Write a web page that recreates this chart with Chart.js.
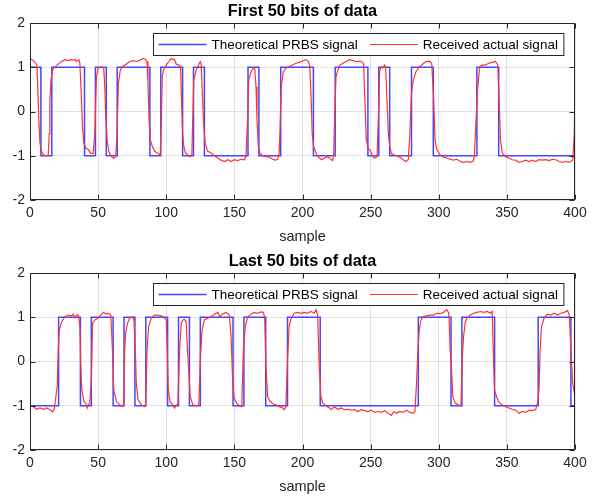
<!DOCTYPE html>
<html>
<head>
<meta charset="utf-8">
<title>PRBS signal</title>
<script src="https://cdn.jsdelivr.net/npm/chart.js@4.4.1/dist/chart.umd.min.js"></script>
<style>
  body { margin: 0; background: #fff; }
  #wrap { position: relative; width: 596px; height: 496px; background: #fff; }
  #wrap canvas { position: absolute; left: 0; }
  #firstChart { top: 0; }
  #lastChart { top: 250px; }
</style>
</head>
<body>
<div id="wrap">
  <canvas id="firstChart" width="596" height="246"></canvas>
  <canvas id="lastChart" width="596" height="246"></canvas>
</div>
<script>
// tick labels
const xTicks = [0, 50, 100, 150, 200, 250, 300, 350, 400];
const yTicks = [-2, -1, 0, 1, 2];

// theoretical PRBS: sample where each level starts, and the level
const blueFirstEdges = [0, 8, 16, 40, 48, 56, 64, 88, 96, 112, 120, 128, 160, 168, 184, 208, 224, 248, 256, 264, 280, 296, 328, 344, 400];
const blueFirstLevels = [1, -1, 1, -1, 1, -1, 1, -1, 1, -1, 1, -1, 1, -1, 1, -1, 1, -1, 1, -1, 1, -1, 1, -1, -1];
const blueLastEdges = [0, 21, 37, 45, 61, 69, 77, 85, 101, 109, 117, 125, 149, 157, 173, 189, 213, 285, 309, 317, 341, 373, 397, 400];
const blueLastLevels = [-1, 1, -1, 1, -1, 1, -1, 1, -1, 1, -1, 1, -1, 1, -1, 1, -1, 1, -1, 1, -1, 1, -1, -1];

// received signal
const redFirstX = [0, 2, 4, 5, 5.6, 6.5, 7.3, 8.5, 9.8, 12.2, 13.4, 14.1, 14.6, 15.4, 16.6, 18.3, 20.7, 23.2, 25.6, 28, 30.5, 32, 33, 34, 35.9, 36.6,
  37.8, 38.5, 39.5, 41, 42.7, 44.4, 46.3, 47.6, 48.3, 48.8, 50, 52.4, 54.1, 54.9, 55.6, 56.6, 57.8, 59.8, 61.5, 62.9, 63.9, 64.9, 66.3, 68.3,
  70.7, 73.2, 75.6, 78, 80.5, 82.9, 84.6, 85.9, 86.6, 87.3, 88.3, 89.8, 91.5, 93.9, 95.6, 96.3, 97.1, 98, 100, 102, 103.7, 104.9, 106, 107.3,
  109.3, 110.5, 111.2, 112, 112.9, 114.1, 115.9, 117.6, 118.8, 119.5, 120.2, 122, 123.7, 124.9, 125.6, 126.3, 127.3, 128.5, 130.5, 132.9,
  135.4, 137.8, 140.2, 142.7, 145.1, 147.6, 150, 152.4, 154.9, 157.3, 158.5, 159.8, 160.5, 162.2, 163.9, 164.9, 165.9, 166.6, 167.6, 168.8,
  170.7, 173.2, 175.6, 178, 180, 181.7, 182.9, 183.7, 184.4, 185.9, 187.8, 190.2, 192.7, 195.1, 197.6, 200, 202.5, 204.4, 205.4, 206.4,
  207.1, 208.1, 209.9, 212.3, 214.3, 216, 218.5, 220.9, 222.2, 222.9, 223.6, 224.6, 225.9, 227.6, 229.6, 232, 234.5, 236.9, 239.4, 241.9,
  243.8, 244.8, 245.8, 246.8, 248.3, 250, 251.7, 253.2, 254.7, 255.7, 256.7, 257.9, 259.1, 260.3, 261, 262, 263, 264, 265.3, 267, 269,
  271.4, 273.9, 275.9, 277.6, 278.8, 280, 281.3, 283.3, 285.7, 288.2, 290.6, 293.1, 294.8, 296.1, 297.3, 298.5, 301, 303.4, 305.9, 308.4,
  310.8, 313.3, 315.8, 318.2, 320.7, 323.2, 325.1, 326.1, 327.1, 328.5, 330, 331.8, 334.2, 336.7, 339.2, 341.6, 343.3, 344.3, 345.3, 346.6,
  349, 351.5, 353.9, 356.4, 358.9, 361.3, 363.8, 366.3, 368.7, 371.2, 373.6, 376.1, 378.6, 381, 383.5, 386, 388.4, 390.9, 393.3, 395.8,
  398.3, 399.5, 400];
const redFirstY = [1.2, 1.16, 1.1, 1.05, 0.64, -0.2, -0.71, -0.9, -0.98, -1.0, -0.98, -0.5, 0.26, 0.71, 0.94, 1.01, 1.07, 1.13, 1.17, 1.15, 1.17, 1.16, 1.18, 1.13, 1.17, 1.09,
  0.26, -0.34, -0.71, -0.83, -0.86, -0.94, -0.95, -0.49, 0.3, 0.79, 0.98, 1.01, 0.98, 0.56, -0.11, -0.64, -0.9, -1.02, -1.06, -1.02, -0.49, 0.64, 0.94, 1.03,
  1.07, 1.13, 1.15, 1.13, 1.15, 1.2, 1.18, 1.13, 0.64, -0.11, -0.64, -0.79, -0.9, -0.95, -0.98, -0.3, 0.79, 0.94, 1.05, 1.13, 1.2, 1.17, 1.18, 1.07,
  1.05, 1.01, 0.26, -0.49, -0.79, -0.94, -0.98, -1.02, -0.98, -0.11, 0.71, 0.94, 1.05, 1.13, 1.09, 0.56, -0.19, -0.71, -0.9, -0.94,
  -1.0, -1.05, -1.1, -1.13, -1.09, -1.13, -1.09, -1.11, -1.08, -1.09, -1.02, -0.11, 0.71, 0.9, 0.98, 0.99, 0.56, -0.19, -0.79, -0.94,
  -1.0, -1.02, -1.03, -1.08, -1.1, -1.08, -0.94, -0.19, 0.56, 0.9, 0.98, 1.01, 1.05, 1.09, 1.11, 1.14, 1.17, 1.13, 1.01, 0.26,
  -0.49, -0.79, -0.94, -1.05, -1.09, -1.05, -1.02, -1.08, -1.11, -0.94, -0.11, 0.79, 0.94, 1.05, 1.09, 1.13, 1.17, 1.15, 1.13, 1.14,
  1.12, 1.09, 0.26, -0.64, -0.83, -0.9, -1.02, -1.05, -1.02, -0.11, 0.94, 1.01, 0.98, 1.05, 1.01, 0.26, -0.49, -0.79, -0.95, -0.98, -1.0,
  -1.03, -1.09, -1.13, -1.09, -0.49, 0.41, 0.71, 0.9, 1.01, 1.07, 1.13, 1.14, 1.09, 0.41, -0.64, -0.86, -0.98, -1.03, -1.05, -1.08,
  -1.1, -1.08, -1.13, -1.15, -1.13, -1.15, -1.13, -1.02, -0.34, 0.49, 1.01, 1.05, 1.05, 1.09, 1.11, 1.13, 1.05, 0.26, -0.64, -0.94,
  -1.02, -1.05, -1.09, -1.1, -1.15, -1.13, -1.1, -1.13, -1.1, -1.13, -1.09, -1.1, -1.09, -1.11, -1.08, -1.09, -1.13, -1.15, -1.13, -1.15,
  -1.1, -0.49, 0.64];

const redLastX = [0, 2.4, 4.9, 7.3, 9.8, 12.2, 14.6, 16.6, 17.8, 19, 20, 20.7, 21.5, 23.2, 25.6, 28, 30.5, 31.7, 32.9, 34.1, 35.6, 36.6,
  37.3, 38, 39.5, 41, 42, 42.7, 43.9, 45.1, 45.9, 47.6, 50, 52.4, 54.1, 55.6, 57.3, 59.3, 60.5, 61.5, 63.4, 65.9, 67.8, 68.8, 69.5, 70.2,
  71.5, 73.2, 75.1, 76.3, 77.3, 78, 79.3, 81.7, 84.1, 84.9, 85.9, 87.1, 89, 91.5, 93.9, 96.3, 98.3, 100, 100.7, 101.5, 102.9, 104.9,
  106.1, 107.3, 108.5, 109.8, 111, 112.2, 113.4, 114.6, 115.5, 116.3, 117.6, 119.5, 122, 123.9, 125.1, 126.3, 128, 130.5, 132.9, 135.4,
  137.8, 139.5, 141, 143.9, 146.3, 147.6, 148.8, 150, 151.7, 153.7, 155.4, 156.6, 158, 159.8, 162.2, 164.6, 167.1, 169.5, 171.2, 172.2,
  173.2, 174.4, 176.1, 178, 180.5, 182.9, 185.4, 186.6, 187.8, 189, 190.2, 191.4, 193.8, 196.3, 198.8, 201.2, 203.7, 206.2, 208.6, 209.9,
  211.1, 212.3, 213.5, 214.8, 217.2, 219.7, 220.9, 223.4, 225.9, 228.3, 230.8, 233.3, 235.7, 238.2, 240.6, 243.1, 245.6, 248, 250.5, 253,
  255.4, 257.9, 260.3, 262.8, 265.3, 267, 269, 271.4, 273.9, 276.4, 278.8, 281.3, 282.5, 283.7, 284.7, 285.7, 286.9, 288.7, 291.1, 293.6,
  296.1, 298.5, 301, 303.4, 305.9, 307.4, 308.4, 309.3, 310.3, 312.1, 314.5, 316.3, 317.2, 318.2, 319.5, 320.7, 323.2, 325.6, 328.1, 330.5,
  333, 335.5, 337.9, 339.2, 339.9, 340.9, 342.4, 344.1, 346.6, 349, 351.5, 353.9, 356.4, 358.9, 361.3, 363.8, 366.3, 368.7, 371.2, 372.4,
  373.6, 374.4, 375.4, 377.3, 379.8, 382.3, 384.7, 387.2, 389.7, 392.1, 394.6, 395.8, 397, 398.3, 399.5, 400];
const redLastY = [-1.0, -1.02, -1.08, -1.05, -1.08, -1.05, -1.09, -1.14, -1.08, -0.79, -0.56, 0.26, 0.71, 0.9, 1.01, 1.05, 1.03, 1.07, 0.99, 1.05, 1.05, 0.79,
  -0.11, -0.64, -0.9, -0.95, -1.05, -0.98, -0.94, -0.34, 0.86, 0.94, 0.98, 1.07, 1.11, 1.07, 1.09, 1.05, 0.26, -0.64, -0.9, -0.98, -1.02, -0.94, 0.26, 0.64,
  0.86, 0.98, 1.01, 0.94, 0.26, -0.49, -0.86, -0.98, -1.02, -0.94, 0.26, 0.79, 0.98, 1.05, 1.05, 1.03, 1.0, 0.94, 0.26, -0.64, -0.92, -0.98,
  -1.05, -0.98, -0.98, 0.26, 0.86, 0.94, 0.95, 0.9, 0.3, -0.11, -0.79, -0.98, -1.0, -0.98, 0.11, 0.71, 0.94, 0.98, 1.01, 1.07,
  1.11, 1.01, 1.07, 1.11, 1.05, 0.56, -0.49, -0.83, -0.94, -1.0, -1.02, 0.26, 0.79, 1.01, 1.07, 1.11, 1.09, 1.12, 1.11, 1.01,
  -0.11, -0.79, -0.9, -0.95, -0.98, -1.02, -1.05, -1.09, -1.02, 0.04, 0.79, 0.95, 1.09, 1.11, 1.09, 1.11, 1.09, 1.13, 1.09, 1.17,
  1.05, -0.11, -0.79, -0.94, -1.0, -1.05, -1.09, -1.03, -1.08, -1.05, -1.09, -1.08, -1.1, -1.09, -1.13, -1.09, -1.11, -1.13, -1.1, -1.15,
  -1.13, -1.15, -1.11, -1.17, -1.22, -1.13, -1.17, -1.13, -1.15, -1.1, -1.15, -1.17, -1.13, -0.49, 0.26, 0.71, 0.94, 1.01, 1.03, 1.05,
  1.05, 1.09, 1.08, 1.11, 1.17, 1.09, 0.26, -0.11, -0.79, -0.94, -0.98, -1.0, 0.04, 0.56, 0.9, 0.98, 1.05, 1.09, 1.11, 1.13,
  1.11, 1.13, 1.09, 1.13, 0.41, -0.64, -0.79, -0.92, -0.98, -1.02, -1.05, -1.08, -1.1, -1.17, -1.13, -1.15, -1.1, -1.11, -1.08, -0.94,
  -0.64, 0.26, 0.79, 0.98, 1.07, 1.05, 1.09, 1.05, 1.09, 1.11, 1.15, 1.05, 0.26, -0.49, -0.71, -0.79];

const axisColor = '#262626';
const blueColor = 'rgb(70,70,255)';
const redColor = 'rgb(255,50,50)';
Chart.defaults.font.family = '"Liberation Sans", Arial, sans-serif';
Chart.defaults.color = axisColor;

// box round the axes, inward ticks, the title and the legend inside the plot
const matlabAxes = {
    id: 'matlabAxes',
    afterDraw(chart, args, opts) {
        const {ctx, chartArea: a, scales: {x, y}} = chart;
        const L = Math.round(a.left) + 0.5, R = Math.round(a.right) - 0.5;
        const T = Math.round(a.top) + 0.5, B = Math.round(a.bottom) - 0.5;
        ctx.save();
        ctx.strokeStyle = axisColor;
        ctx.lineWidth = 1;
        ctx.beginPath();
        xTicks.forEach(v => {
            const px = Math.round(x.getPixelForValue(v)) + 0.5;
            ctx.moveTo(px, B); ctx.lineTo(px, B - 5);
            ctx.moveTo(px, T); ctx.lineTo(px, T + 5);
        });
        yTicks.forEach(v => {
            const py = Math.round(y.getPixelForValue(v)) + 0.5;
            ctx.moveTo(L, py); ctx.lineTo(L + 5, py);
            ctx.moveTo(R, py); ctx.lineTo(R - 5, py);
        });
        ctx.stroke();
        ctx.strokeRect(L, T, R - L, B - T);

        // title, centred over the plot box
        ctx.fillStyle = '#000';
        ctx.font = 'bold 16.3px "Liberation Sans", Arial, sans-serif';
        ctx.textAlign = 'center';
        ctx.textBaseline = 'middle';
        ctx.fillText(opts.text, (a.left + a.right) / 2, 12);

        // legend
        ctx.textAlign = 'left';
        ctx.font = '13.5px "Liberation Sans", Arial, sans-serif';
        const sets = chart.data.datasets;
        const widths = sets.map(d => ctx.measureText(d.label).width);
        const lineLen = 48, gap = 5, itemGap = 12, padL = 5, padR = 6, h = 22;
        const boxW = padL + padR + widths.reduce((s, w) => s + w + lineLen + gap, 0) + itemGap * (sets.length - 1);
        const bx = Math.round(a.right - 12 - boxW) + 0.5, by = Math.round(a.top + 10) + 0.5;
        ctx.fillStyle = '#fff';
        ctx.fillRect(bx, by, boxW, h);
        ctx.strokeStyle = axisColor;
        ctx.lineWidth = 1;
        ctx.strokeRect(bx, by, boxW, h);
        let cx = bx + padL;
        const cy = by + h / 2;
        sets.forEach((d, i) => {
            ctx.strokeStyle = d.borderColor;
            ctx.lineWidth = d.borderWidth;
            ctx.beginPath();
            ctx.moveTo(cx, cy);
            ctx.lineTo(cx + lineLen, cy);
            ctx.stroke();
            cx += lineLen + gap;
            ctx.fillStyle = '#000';
            ctx.fillText(d.label, cx, cy + 1);
            cx += widths[i] + itemGap;
        });
        ctx.restore();
    }
};

function makeChart(id, title, edges, levels, redX, redY) {
    const bluePts = edges.map((e, i) => ({x: e, y: levels[i]}));
    const redPts = redX.map((v, i) => ({x: v, y: redY[i]}));
    return new Chart(document.getElementById(id), {
        type: 'line',
        data: {
            datasets: [
                {label: 'Theoretical PRBS signal', data: bluePts, borderColor: blueColor, borderWidth: 1.5, stepped: true, pointRadius: 0, order: 1},
                {label: 'Received actual signal', data: redPts, borderColor: redColor, borderWidth: 1.2, pointRadius: 0, order: 0}
            ]
        },
        options: {
            responsive: false,
            devicePixelRatio: 1,
            animation: false,
            layout: {padding: {left: 0, right: 21, top: 23, bottom: 0}},
            plugins: {
                legend: {display: false},
                tooltip: {enabled: false},
                title: {display: false},
                matlabAxes: {text: title}
            },
            scales: {
                x: {
                    type: 'linear', min: 0, max: 400,
                    afterBuildTicks: ax => { ax.ticks = xTicks.map(v => ({value: v})); },
                    afterFit: ax => { ax.height = 46; },
                    ticks: {font: {size: 14}, padding: 5, maxRotation: 0, color: axisColor},
                    grid: {color: 'rgba(38,38,38,0.13)', drawTicks: false},
                    border: {display: false},
                    title: {display: true, text: 'sample', font: {size: 14.5}, padding: {top: 0, bottom: 0}, color: axisColor}
                },
                y: {
                    min: -2, max: 2,
                    afterBuildTicks: ax => { ax.ticks = yTicks.map(v => ({value: v})); },
                    afterFit: ax => { ax.width = 30; },
                    ticks: {font: {size: 14}, padding: 5, color: axisColor},
                    grid: {color: 'rgba(38,38,38,0.13)', drawTicks: false},
                    border: {display: false}
                }
            }
        },
        plugins: [matlabAxes]
    });
}

makeChart('firstChart', 'First 50 bits of data', blueFirstEdges, blueFirstLevels, redFirstX, redFirstY);
makeChart('lastChart', 'Last 50 bits of data', blueLastEdges, blueLastLevels, redLastX, redLastY);
</script>
</body>
</html>
